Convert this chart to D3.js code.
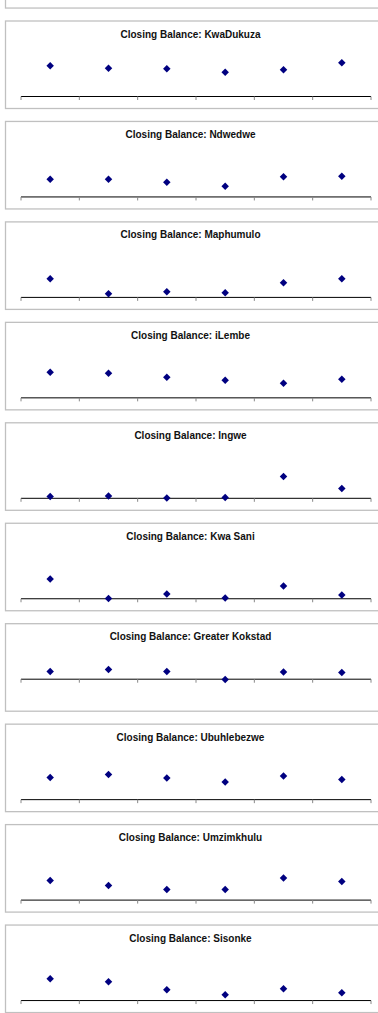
<!DOCTYPE html>
<html>
<head>
<meta charset="utf-8">
<script src="https://cdn.jsdelivr.net/npm/d3@7"></script>
<style>
  body { margin: 0; background: #fff; }
  svg { display: block; }
</style>
</head>
<body>
<svg id="chart" width="378" height="1013"></svg>
<script>
var svg = d3.select("#chart"),
    width = +svg.attr("width"),
    height = +svg.attr("height");

// DATA: closing balance per municipality (units unread, axis labels hidden)
var periods = ["P1", "P2", "P3", "P4", "P5", "P6"];

var municipalities = ["KwaDukuza", "Ndwedwe", "Maphumulo", "iLembe", "Ingwe",
                      "Kwa Sani", "Greater Kokstad", "Ubuhlebezwe", "Umzimkhulu", "Sisonke"];

var kwaDukuza      = [61, 56, 55, 48, 53, 67];
var ndwedwe        = [35, 35, 29, 21, 40, 41];
var maphumulo      = [37, 7, 11, 9, 29, 37];
var iLembe         = [51, 49, 41, 35, 29, 37];
var ingwe          = [3, 4, 0, 1, 43, 19];
var kwaSani        = [39, 0, 9, 1, 25, 7];
var greaterKokstad = [15, 19, 15, -1, 14, 13];
var ubuhlebezwe    = [44, 50, 43, 35, 47, 40];
var umzimkhulu     = [39, 29, 21, 21, 44, 37];
var sisonke        = [43, 37, 21, 11, 23, 15];

var series = [kwaDukuza, ndwedwe, maphumulo, iLembe, ingwe,
              kwaSani, greaterKokstad, ubuhlebezwe, umzimkhulu, sisonke];

// value axis range per chart (Excel auto scale)
var yDomains = [[0, 100], [0, 100], [0, 100], [0, 100], [0, 100],
                [0, 100], [-40, 60], [0, 100], [0, 100], [0, 100]];

// LAYOUT
var top0 = 20.5, step = 100.45, boxH = 87.5;

var x = d3.scaleBand().domain(periods).range([21, 371]);

// partial box of the chart above the first one
svg.append("rect")
    .attr("x", 5.5).attr("y", top0 - step + 0.5)
    .attr("width", 390).attr("height", boxH)
    .attr("fill", "none").attr("stroke", "#c0c0c0").attr("stroke-width", 1.3);

var panel = svg.selectAll("g.panel")
  .data(municipalities)
  .enter().append("g")
    .attr("class", "panel")
    .attr("transform", (d, i) => "translate(0," + (top0 + i * step) + ")");

panel.append("rect")
    .attr("x", 5.5).attr("y", 0.5)
    .attr("width", 390).attr("height", boxH)
    .attr("fill", "#fff").attr("stroke", "#c0c0c0").attr("stroke-width", 1.3);

panel.append("text")
    .attr("x", 190.5).attr("y", 17)
    .attr("text-anchor", "middle")
    .style("font-family", "Liberation Sans, Arial, sans-serif")
    .style("font-weight", "bold")
    .style("font-size", "10px")
    .attr("fill", "#111")
    .text(d => "Closing Balance: " + d);

panel.each(function(name, i) {
  var g = d3.select(this);
  var y = d3.scaleLinear().domain(yDomains[i]).range([75.8, 25.8]);

  // category axis crossing at zero, ticks between categories
  var axisG = g.append("g").attr("transform", "translate(0," + Math.round(y(0)) + ")");
  axisG.append("line")
      .attr("x1", x.range()[0]).attr("x2", x.range()[1])
      .attr("stroke", "#000").attr("stroke-width", 1);
  var bounds = periods.map(p => x(p)).concat([x.range()[1]]);
  axisG.selectAll("line.tick")
    .data(bounds)
    .enter().append("line")
      .attr("class", "tick")
      .attr("x1", d => d).attr("x2", d => d)
      .attr("y1", 0).attr("y2", 3.5)
      .attr("stroke", "#888").attr("stroke-width", 1);

  g.selectAll("path.pt")
    .data(series[i])
    .enter().append("path")
      .attr("class", "pt")
      .attr("d", d3.symbol(d3.symbolSquare, 28)())
      .attr("transform", (d, j) => "translate(" + (x(periods[j]) + x.bandwidth() / 2) + "," + y(d) + ") rotate(45)")
      .attr("fill", "#000080");
});
</script>
</body>
</html>
